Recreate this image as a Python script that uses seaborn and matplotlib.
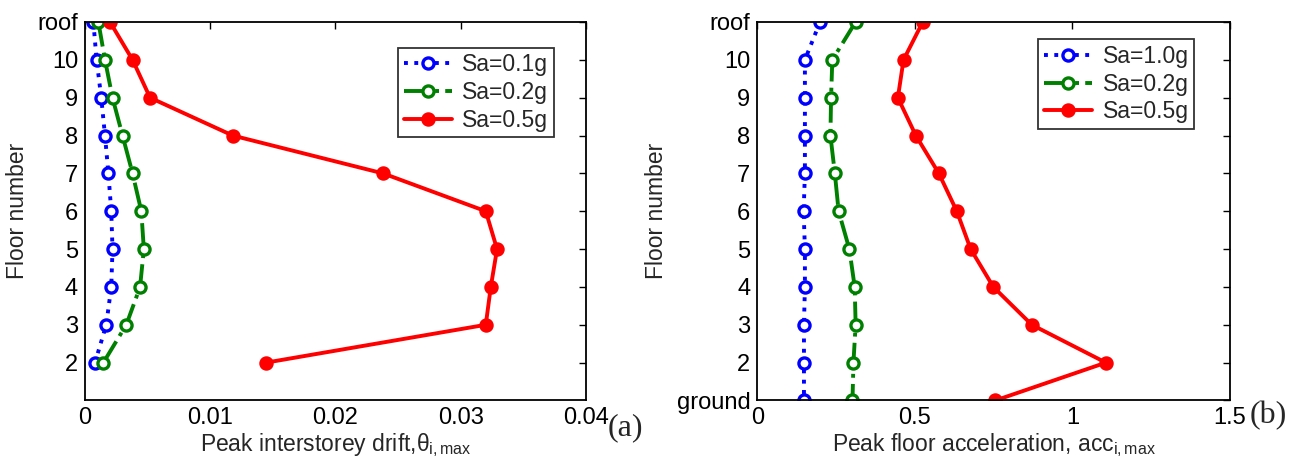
import matplotlib
matplotlib.use("Agg")
import matplotlib.pyplot as plt
import seaborn as sns
import pandas as pd

# ---- data ----
floors_a = [11, 10, 9, 8, 7, 6, 5, 4, 3, 2]
drift_01 = [0.00067, 0.00093, 0.0013, 0.0016, 0.00187, 0.0021, 0.0022, 0.0021, 0.0017, 0.0008]
drift_02 = [0.00107, 0.0016, 0.0022, 0.0030, 0.0038, 0.0045, 0.0047, 0.0044, 0.0033, 0.00147]
drift_05 = [0.0020, 0.0038, 0.0052, 0.0118, 0.0238, 0.0320, 0.0329, 0.0324, 0.0320, 0.01445]
labels_a = ["Sa=0.1g", "Sa=0.2g", "Sa=0.5g"]

floors_b = [11, 10, 9, 8, 7, 6, 5, 4, 3, 2, 1]
acc_10 = [0.199, 0.151, 0.151, 0.151, 0.151, 0.147, 0.151, 0.151, 0.148, 0.148, 0.148]
acc_02 = [0.312, 0.238, 0.234, 0.232, 0.246, 0.258, 0.292, 0.309, 0.312, 0.305, 0.302]
acc_05 = [0.525, 0.464, 0.446, 0.503, 0.576, 0.633, 0.677, 0.749, 0.871, 1.106, 0.755]
labels_b = ["Sa=1.0g", "Sa=0.2g", "Sa=0.5g"]

yticks_a = [2, 3, 4, 5, 6, 7, 8, 9, 10, 11]
yticklabels_a = ["2", "3", "4", "5", "6", "7", "8", "9", "10", "roof"]
yticks_b = [1, 2, 3, 4, 5, 6, 7, 8, 9, 10, 11]
yticklabels_b = ["ground", "2", "3", "4", "5", "6", "7", "8", "9", "10", "roof"]

sns.set_style("white")
plt.rcParams["font.family"] = ["Liberation Sans", "DejaVu Sans"]
plt.rcParams["mathtext.fontset"] = "custom"
plt.rcParams["mathtext.rm"] = "Liberation Sans"
plt.rcParams["mathtext.it"] = "Liberation Sans"

fig = plt.figure(figsize=(12.99, 4.63), dpi=100)
ax1 = fig.add_axes([0.0654, 0.135, 0.3857, 0.8175])
ax2 = fig.add_axes([0.583, 0.135, 0.3639, 0.8175])

styles = [
    dict(color="#0000ff", linestyle=":", markerfacecolor="white"),
    dict(color="#008000", linestyle="-.", markerfacecolor="white"),
    dict(color="#ff0000", linestyle="-", markerfacecolor="#ff0000"),
]

def draw(ax, floors, series, labels):
    for vals, lab, st in zip(series, labels, styles):
        df = pd.DataFrame({"x": vals, "y": floors})
        sns.lineplot(data=df, x="x", y="y", ax=ax, orient="y", sort=False,
                     estimator=None, label=lab, marker="o", markersize=8,
                     markeredgewidth=2.4, markeredgecolor=st["color"],
                     color=st["color"], linestyle=st["linestyle"],
                     markerfacecolor=st["markerfacecolor"], linewidth=2.8)

draw(ax1, floors_a, [drift_01, drift_02, drift_05], labels_a)
draw(ax2, floors_b, [acc_10, acc_02, acc_05], labels_b)

anchors = {0: (0.936, 0.932), 1: (0.9245, 0.954)}
for i, ax in enumerate((ax1, ax2)):
    for s in ax.spines.values():
        s.set_visible(True)
        s.set_color("black")
        s.set_linewidth(1.3)
    ax.tick_params(direction="in", length=5, width=1, top=True, right=True,
                   labelsize=17, pad=5, colors="black")
    ax.set_ylabel("Floor number", fontsize=16.5, labelpad=6)
    ax.grid(False)
    leg = ax.legend(fontsize=16.5, frameon=True, fancybox=False, edgecolor="black",
                    handlelength=2.1, borderpad=0.25, labelspacing=0.2,
                    handletextpad=0.45, loc="upper right", borderaxespad=0,
                    bbox_to_anchor=anchors[i])
    leg.get_frame().set_linewidth(1.3)

ax1.set_xlim(0, 0.04)
ax1.set_ylim(1, 11)
ax1.set_xticks([0, 0.01, 0.02, 0.03, 0.04])
ax1.set_xticklabels(["0", "0.01", "0.02", "0.03", "0.04"])
ax1.set_yticks(yticks_a)
ax1.set_yticklabels(yticklabels_a)
ax1.set_xlabel(r"Peak interstorey drift,$\theta_{\rm i,max}$", fontsize=16.5, labelpad=1)

ax2.set_xlim(0, 1.5)
ax2.set_ylim(1, 11)
ax2.set_xticks([0, 0.5, 1, 1.5])
ax2.set_xticklabels(["0", "0.5", "1", "1.5"])
ax2.set_yticks(yticks_b)
ax2.set_yticklabels(yticklabels_b)
ax2.set_xlabel(r"Peak floor acceleration, acc$_{\rm i,max}$", fontsize=16.5, labelpad=1)

fig.text(0.468, 0.045, "(a)", fontsize=23, family="Liberation Serif", ha="left", va="bottom")
fig.text(0.962, 0.07, "(b)", fontsize=23, family="Liberation Serif", ha="left", va="bottom")

fig.savefig("out.png", dpi=100)
